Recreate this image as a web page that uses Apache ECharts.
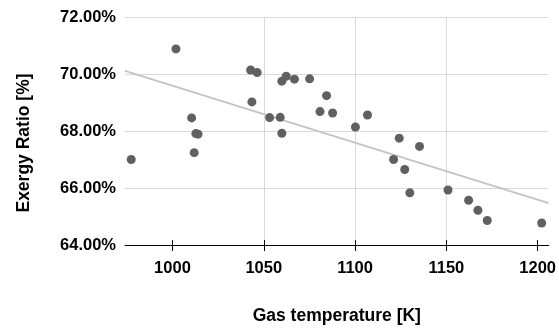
<!DOCTYPE html>
<html lang="en">
<head>
	<meta charset="UTF-8">
	<title>Exergy Ratio</title>
    <script src="https://cdn.jsdelivr.net/npm/echarts@6/dist/echarts.min.js"></script>
    <style>html,body{margin:0;padding:0;background:#fff;}</style>
</head>
<body>
	<div id="main" style="width: 559px;height:330px;"></div>
	 <script type="text/javascript">
        // data
        var gasTemp = [977.4, 1001.9, 1010.5, 1011.9, 1012.8, 1014.0, 1042.8, 1043.5, 1046.4, 1053.2,
                       1059.0, 1059.9, 1059.9, 1062.3, 1066.8, 1075.1, 1080.8, 1084.4, 1087.7, 1100.2,
                       1106.8, 1121.1, 1124.2, 1127.2, 1130.0, 1135.3, 1150.9, 1162.2, 1167.3, 1172.4, 1202.2];
        var exergyRatio = [67.00, 70.88, 68.46, 67.24, 67.91, 67.89, 70.14, 69.02, 70.05, 68.47,
                           68.48, 67.92, 69.75, 69.92, 69.82, 69.83, 68.68, 69.24, 68.63, 68.14,
                           68.56, 67.00, 67.75, 66.65, 65.83, 67.46, 65.93, 65.57, 65.22, 64.86, 64.77];
        // linear trend line ends
        var trendX = [974, 1206];
        var trendY = [70.11, 65.47];
        var xTicks = [1000, 1050, 1100, 1150, 1200];

        var points = gasTemp.map(function (t, i) { return [t, exergyRatio[i]]; });
        var trend = trendX.map(function (t, i) { return [t, trendY[i]]; });

        var myChart = echarts.init(document.getElementById('main'));
        var font = 'Liberation Sans';

		var option = {
            animation: false,
            grid: { left: 125, right: 9, top: 17, bottom: 84 },
		    xAxis: [{
		    	name: 'Gas temperature [K]',
                nameLocation: 'middle',
                nameGap: 62,
                nameTextStyle: { fontFamily: font, fontWeight: 'bold', fontSize: 17.5, color: '#000' },
		        type: 'value',
                min: 974,
                max: 1206,
                axisLine: { show: true, onZero: false, lineStyle: { color: '#000', width: 1 } },
                axisTick: { show: true, length: 6, customValues: xTicks, lineStyle: { color: '#000' } },
		        axisLabel: {
                    customValues: xTicks,
                    margin: 15,
                    fontFamily: font, fontWeight: 'bold', fontSize: 16.5, color: '#000',
                    formatter: function (v) { return String(v); }
		        },
                splitLine: { show: true, showMinLine: false, showMaxLine: false, lineStyle: { color: '#d9d9d9' } }
		    }, {
                // second axis only for the upward half of the ticks
                type: 'value',
                position: 'bottom',
                min: 974,
                max: 1206,
                axisLine: { show: false },
                axisTick: { show: true, inside: true, length: 5, customValues: xTicks, lineStyle: { color: '#000' } },
                axisLabel: { show: false },
                splitLine: { show: false }
            }],
		    yAxis: {
		    	name: 'Exergy Ratio [%]',
                nameLocation: 'middle',
                nameGap: 92,
                nameTextStyle: { fontFamily: font, fontWeight: 'bold', fontSize: 17.5, color: '#000', padding: [0, 24, 0, 0] },
		        type: 'value',
                min: 64,
                max: 72,
                interval: 2,
                axisLine: { show: false },
                axisTick: { show: false },
                axisLabel: {
                    margin: 9,
                    fontFamily: font, fontWeight: 'bold', fontSize: 16.5, color: '#000',
                    formatter: function (v) { return v.toFixed(2) + '%'; }
                },
                splitLine: { lineStyle: { color: '#d9d9d9' } }
		    },
		    series: [{
                type: 'line',
		        data: trend,
                symbol: 'none',
                lineStyle: { color: '#c4c4c4', width: 2 },
                z: 1
            }, {
		        data: points,
		        type: 'scatter',
		        symbolSize : 9,
                itemStyle: { color: '#606060', opacity: 1 },
                z: 2
		    }]
		};

        myChart.setOption(option);
    </script>
</body>
</html>
